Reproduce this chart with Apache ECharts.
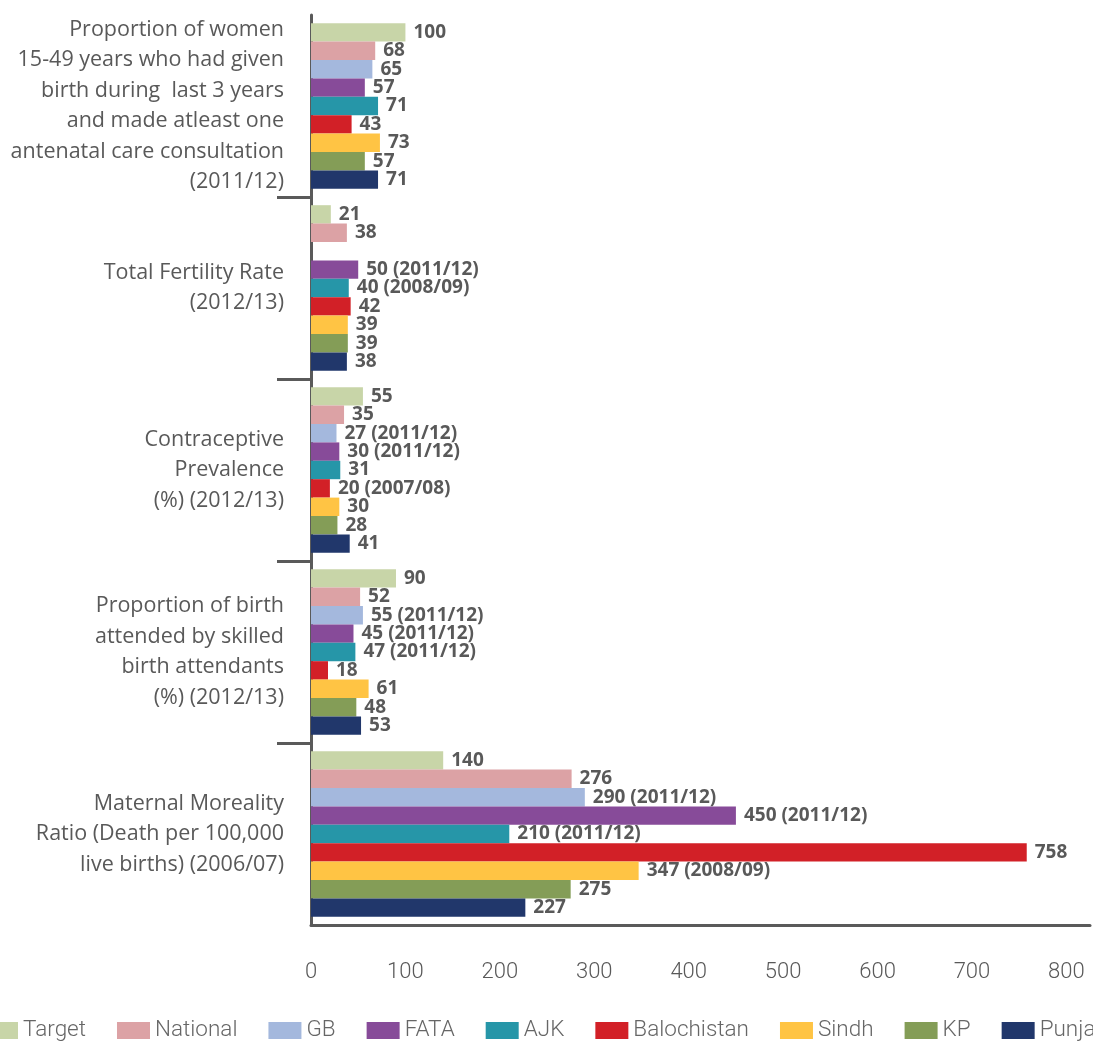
<!DOCTYPE html>
<html>
<head>
<meta charset="utf-8">
<script src="https://cdn.jsdelivr.net/npm/echarts@6/dist/echarts.min.js"></script>
<style>
  html, body { margin: 0; padding: 0; background: #ffffff; }
  #chart { width: 1093px; height: 1051px; }
</style>
</head>
<body>
<div id="chart"></div>
<script>
// Indicators (top to bottom)
const categories = [
  'Proportion of women\n15-49 years who had given\nbirth during  last 3 years\nand made atleast one\nantenatal care consultation\n(2011/12)',
  'Total Fertility Rate\n(2012/13)',
  'Contraceptive\nPrevalence\n(%) (2012/13)',
  'Proportion of birth\nattended by skilled\nbirth attendants\n(%) (2012/13)',
  'Maternal Moreality\nRatio (Death per 100,000\nlive births) (2006/07)'
];

const seriesNames = ['Target', 'National', 'GB', 'FATA', 'AJK', 'Balochistan', 'Sindh', 'KP', 'Punjal'];

// Values per region, one entry per indicator
const target      = [100, 21, 55, 90, 140];
const national    = [68, 38, 35, 52, 276];
const gb          = [65, null, 27, 55, 290];
const fata        = [57, 50, 30, 45, 450];
const ajk         = [71, 40, 31, 47, 210];
const balochistan = [43, 42, 20, 18, 758];
const sindh       = [73, 39, 30, 61, 347];
const kp          = [57, 39, 28, 48, 275];
const punjal      = [71, 38, 41, 53, 227];

// Survey year notes shown after some values
const gbNotes          = ['', '', '(2011/12)', '(2011/12)', '(2011/12)'];
const fataNotes        = ['', '(2011/12)', '(2011/12)', '(2011/12)', '(2011/12)'];
const ajkNotes         = ['', '(2008/09)', '', '(2011/12)', '(2011/12)'];
const balochistanNotes = ['', '', '(2007/08)', '', ''];
const sindhNotes       = ['', '', '', '', '(2008/09)'];
const noNotes          = ['', '', '', '', ''];

const xTicks = [0, 100, 200, 300, 400, 500, 600, 700, 800];

const colors = ['#C8D5A8', '#DCA2A5', '#A4B8DD', '#874B99', '#2696A8', '#D22027', '#FFC444', '#849D57', '#21376B'];

const values = [target, national, gb, fata, ajk, balochistan, sindh, kp, punjal];
const notes = [noNotes, noNotes, gbNotes, fataNotes, ajkNotes, balochistanNotes, sindhNotes, noNotes, noNotes];

const axisGrey = '#5a5a5a';
const textGrey = '#595959';

const series = seriesNames.map((name, i) => ({
  name: name,
  type: 'bar',
  yAxisIndex: 0,
  data: values[i],
  barGap: '0%',
  barCategoryGap: '9%',
  itemStyle: { color: colors[i] },
  label: {
    show: true,
    position: 'right',
    distance: 8,
    color: textGrey,
    fontFamily: 'Open Sans',
    fontWeight: 'bold',
    fontSize: 19,
    formatter: p => {
      if (p.value == null) return '';
      const n = notes[i][p.dataIndex];
      return n ? p.value + ' ' + n : String(p.value);
    }
  }
}));

const chart = echarts.init(document.getElementById('chart'), null, { renderer: 'canvas' });
chart.setOption({
  animation: false,
  color: colors,
  grid: { left: 311, right: 3, top: 15, bottom: 126, containLabel: false },
  xAxis: {
    type: 'value',
    position: 'bottom',
    min: 0,
    max: 825,
    interval: 100,
    axisLine: { show: true, onZero: false, lineStyle: { color: axisGrey, width: 3 } },
    axisTick: { show: false },
    splitLine: { show: false },
    axisLabel: {
      margin: 36,
      color: textGrey,
      fontFamily: 'Roboto',
      fontWeight: 300,
      fontSize: 22,
      showMaxLabel: false,
      formatter: v => (xTicks.indexOf(v) >= 0 ? String(v) : '')
    }
  },
  yAxis: [
    {
      type: 'category',
      inverse: true,
      data: categories,
      axisLine: { show: true, onZero: false, lineStyle: { color: axisGrey, width: 3 } },
      axisTick: { show: false },
      axisLabel: {
        margin: 27,
        color: textGrey,
        fontFamily: 'Open Sans',
        fontSize: 21.5,
        lineHeight: 30.5,
        align: 'right'
      }
    },
    {
      // separators between indicator groups
      type: 'value',
      inverse: true,
      position: 'left',
      min: 0,
      max: 5,
      interval: 1,
      axisLine: { show: false, onZero: false },
      axisLabel: { show: false },
      splitLine: { show: false },
      axisTick: {
        show: true,
        length: 34,
        customValues: [1, 2, 3, 4],
        lineStyle: { color: axisGrey, width: 3 }
      }
    }
  ],
  legend: {
    data: seriesNames,
    left: -20,
    bottom: 4,
    width: 1200,
    itemWidth: 33,
    itemHeight: 17,
    itemGap: 31,
    icon: 'rect',
    textStyle: {
      color: '#666666',
      fontFamily: 'Roboto',
      fontWeight: 300,
      fontSize: 22.5,
      padding: [0, 0, 0, 0]
    }
  },
  series: series
});
</script>
</body>
</html>
